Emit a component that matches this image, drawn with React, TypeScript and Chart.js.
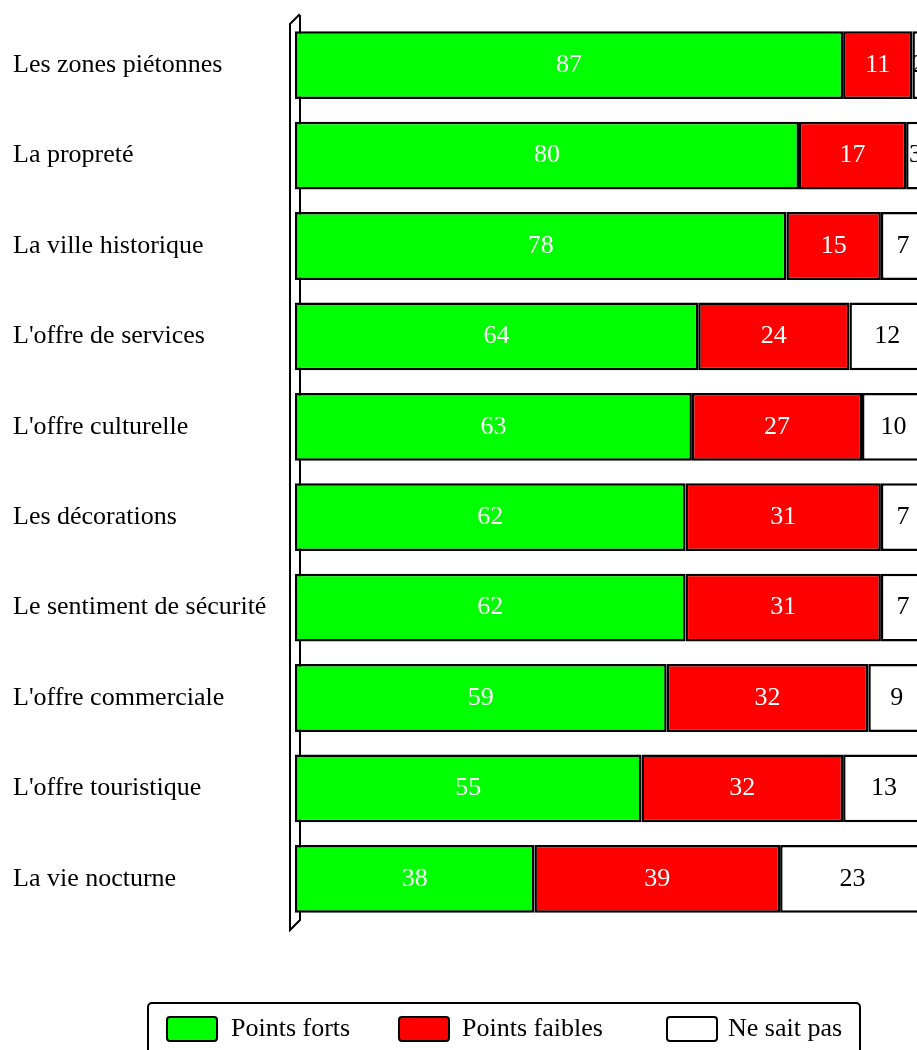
import React, { useEffect, useRef } from "react";
import { Chart, registerables } from "chart.js";

Chart.register(...registerables);

const categories = [
  "Les zones piétonnes",
  "La propreté",
  "La ville historique",
  "L'offre de services",
  "L'offre culturelle",
  "Les décorations",
  "Le sentiment de sécurité",
  "L'offre commerciale",
  "L'offre touristique",
  "La vie nocturne",
];
const pointsForts = [87, 80, 78, 64, 63, 62, 62, 59, 55, 38];
const pointsFaibles = [11, 17, 15, 24, 27, 31, 31, 32, 32, 39];
const neSaitPas = [2, 3, 7, 12, 10, 7, 7, 9, 13, 23];
const seriesLabels = ["Points forts", "Points faibles", "Ne sait pas"];
const seriesColors = ["#00ff00", "#ff0000", "#ffffff"];
const valueTextColors = ["#ffffff", "#ffffff", "#000000"];

const FONT = "'Liberation Serif', 'Times New Roman', serif";

const wallPlugin = {
  id: "wall",
  beforeDatasetsDraw(chart: any) {
    const { ctx, chartArea } = chart;
    const x0 = chartArea.left - 5;
    const x1 = chartArea.left + 5;
    const top = chartArea.top;
    const bottom = chartArea.bottom;
    ctx.save();
    ctx.strokeStyle = "#000";
    ctx.lineWidth = 2;
    ctx.fillStyle = "#fff";
    ctx.beginPath();
    ctx.moveTo(x0, bottom + 6);
    ctx.lineTo(x0, top + 4);
    ctx.lineTo(x1 - 1, top - 5);
    ctx.lineTo(x1, top - 4);
    ctx.lineTo(x1, bottom - 4);
    ctx.lineTo(x0, bottom + 6);
    ctx.closePath();
    ctx.fill();
    ctx.stroke();
    ctx.restore();
  },
};

const valuePlugin = {
  id: "values",
  afterDatasetsDraw(chart: any) {
    const { ctx } = chart;
    ctx.save();
    ctx.font = `26px ${FONT}`;
    ctx.textAlign = "center";
    ctx.textBaseline = "middle";
    chart.data.datasets.forEach((ds: any, di: number) => {
      const meta = chart.getDatasetMeta(di);
      meta.data.forEach((bar: any, i: number) => {
        const v = ds.data[i];
        const cx = (bar.x + bar.base) / 2;
        ctx.fillStyle = valueTextColors[di];
        ctx.fillText(String(v), cx, bar.y);
      });
    });
    ctx.restore();
  },
};

const legendPlugin = {
  id: "boxLegend",
  afterDraw(chart: any) {
    const { ctx } = chart;
    const boxL = 148, boxT = 1003, boxR = 860, boxB = 1080;
    ctx.save();
    ctx.strokeStyle = "#000";
    ctx.lineWidth = 2;
    ctx.beginPath();
    ctx.roundRect(boxL, boxT, boxR - boxL, boxB - boxT, 4);
    ctx.stroke();
    const swX = [167, 399, 667];
    const txX = [231, 462, 728];
    const cy = 1029;
    ctx.font = `26px ${FONT}`;
    ctx.textBaseline = "middle";
    ctx.textAlign = "left";
    chart.data.datasets.forEach((ds: any, i: number) => {
      ctx.fillStyle = ds.backgroundColor;
      ctx.beginPath();
      ctx.roundRect(swX[i], cy - 12, 50, 24, 3);
      ctx.fill();
      ctx.stroke();
      ctx.fillStyle = "#000";
      ctx.fillText(ds.label, txX[i], cy);
    });
    ctx.restore();
  },
};

export default function App() {
  const ref = useRef<HTMLCanvasElement>(null);
  useEffect(() => {
    if (!ref.current) return;
    const series = [pointsForts, pointsFaibles, neSaitPas];
    const chart = new Chart(ref.current, {
      type: "bar",
      data: {
        labels: categories,
        datasets: series.map((d, i) => ({
          label: seriesLabels[i],
          data: d,
          backgroundColor: seriesColors[i],
          borderColor: "#000",
          borderWidth: 2.5,
          borderSkipped: false,
          categoryPercentage: 1,
          barPercentage: 0.75,
        })),
      },
      options: {
        indexAxis: "y",
        responsive: false,
        animation: false,
        layout: { padding: { left: 13, right: 15, top: 20, bottom: 146 } },
        plugins: {
          legend: { display: false },
          tooltip: { enabled: false },
        },
        scales: {
          x: {
            stacked: true,
            min: 0,
            max: 100,
            display: false,
          },
          y: {
            stacked: true,
            grid: { display: false },
            border: { display: false },
            afterFit: (scale: any) => {
              scale.width = 282;
            },
            ticks: {
              crossAlign: "far",
              color: "#000",
              font: { family: FONT, size: 26 },
            },
          },
        },
      },
      plugins: [wallPlugin, valuePlugin, legendPlugin],
    });
    return () => chart.destroy();
  }, []);
  return (
    <div
      style={{
        position: "fixed",
        left: 0,
        top: 0,
        width: 917,
        height: 1050,
        overflow: "hidden",
        background: "#fff",
      }}
    >
      <canvas ref={ref} width={940} height={1070} style={{ display: "block" }} />
    </div>
  );
}
